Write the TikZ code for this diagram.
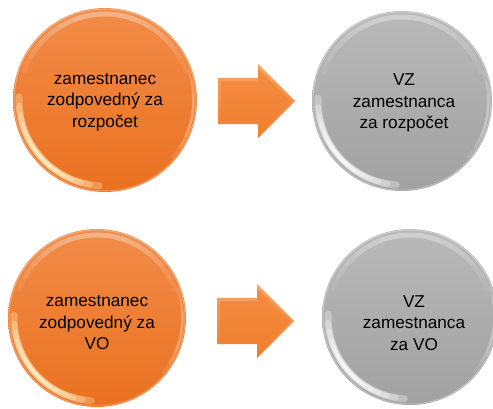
\documentclass[tikz,border=0pt]{standalone}
\usepackage{fontspec}
\setmainfont{Liberation Sans}
\usetikzlibrary{shapes.arrows,calc}
\definecolor{ortop}{HTML}{F28C48}
\definecolor{ormid}{HTML}{F07F30}
\definecolor{orbot}{HTML}{EA7120}
\definecolor{grtop}{HTML}{B9B9B9}
\definecolor{grmid}{HTML}{ADADAD}
\definecolor{grbot}{HTML}{A1A1A1}
\definecolor{artop}{HTML}{F7A667}
\definecolor{arbot}{HTML}{EF7B2B}
\definecolor{aritop}{HTML}{F48C40}
\definecolor{aribot}{HTML}{F07F30}
\newcommand\orbshine[3]{%
  \draw[white,opacity=.3,line width=1pt] (#1.center) circle[radius=#2-1];
  \foreach \h in {70,60,...,20}{%
    \draw[white,opacity=.07,line width=5pt,line cap=round]
      ($(#1.center)+(90+\h:#2-6)$) arc[start angle=90+\h,end angle=90-\h,radius=#2-6];}
  \foreach \h/\w in {44/7,38/6,32/5,26/4,20/3.5,14/3,8/2.5}{%
    \draw[#3,opacity=.3,line width=\w pt,line cap=round]
      ($(#1.center)+(222-\h:#2-6)$) arc[start angle=222-\h,end angle=222+\h,radius=#2-6];}
  \foreach \h in {30,22,14}{%
    \draw[white,opacity=.12,line width=2.5pt,line cap=round]
      ($(#1.center)+(-10-\h:#2-3.5)$) arc[start angle=-10-\h,end angle=-10+\h,radius=#2-3.5];}
}
\definecolor{glareor}{HTML}{FFF4CC}
\definecolor{glaregr}{HTML}{FFFFFF}
\begin{document}
\begin{tikzpicture}[x=1pt,y=1pt,
  orb/.style={circle,inner sep=0pt,minimum size=#1},
  orbtext/.style={align=center,font=\fontsize{17.2}{21.5}\selectfont},
  orangeorb/.style={top color=ortop,middle color=ormid,bottom color=orbot},
  greyorb/.style={top color=grtop,middle color=grmid,bottom color=grbot},
  flowarrow/.style={single arrow,single arrow head extend=14pt,minimum height=77pt,
    inner xsep=0pt,inner ysep=23pt,top color=artop,bottom color=arbot,anchor=tail},
  flowarrowin/.style={single arrow,single arrow head extend=13pt,minimum height=70pt,
    inner xsep=0pt,inner ysep=20pt,top color=aritop,bottom color=aribot,anchor=tail}]
\useasboundingbox (0,0) rectangle (493,408);
\fill[white] (0,0) rectangle (493,408);

\node[orb=184pt,orangeorb] (a) at (105,308) {};
\node[orb=180pt,greyorb] (b) at (402,307) {};
\node[orb=178pt,orangeorb] (c) at (97,90) {};
\node[orb=176pt,greyorb] (d) at (410,91) {};

\orbshine{a}{92}{glareor}
\orbshine{b}{90}{glaregr}
\orbshine{c}{89}{glareor}
\orbshine{d}{88}{glaregr}

\node[orbtext] (ta) at (105,306) {zamestnanec\\zodpovedný za\\rozpočet};
\node[orbtext] (tb) at (404,305) {VZ\\zamestnanca\\za rozpočet};
\node[orbtext] (tc) at (97,85) {zamestnanec\\zodpovedný za\\VO};
\node[orbtext] (td) at (414,85) {VZ\\zamestnanca\\za VO};

\node[flowarrow] (arr1) at (218,307) {};
\node[flowarrowin] (arr1in) at (221,306.5) {};
\node[flowarrow] (arr2) at (217,87) {};
\node[flowarrowin] (arr2in) at (220,86.5) {};
\end{tikzpicture}
\end{document}
